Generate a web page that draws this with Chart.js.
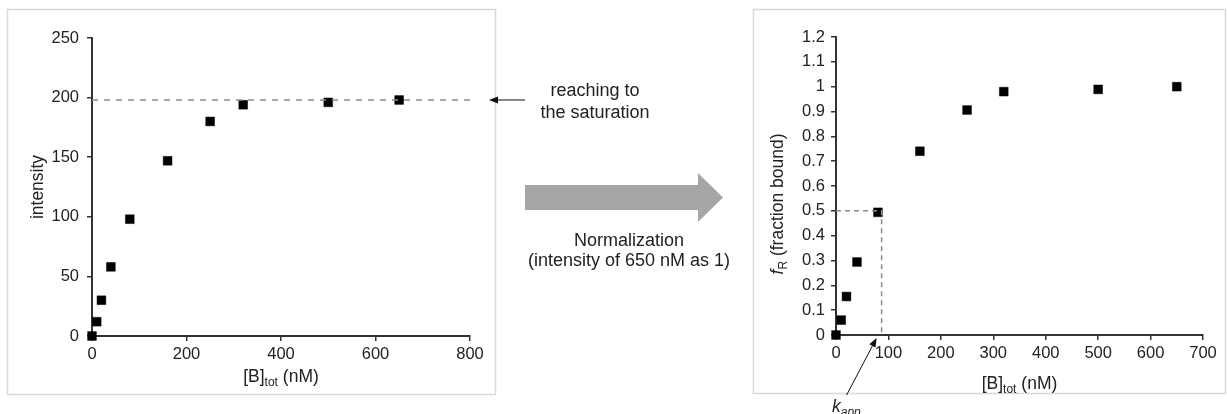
<!DOCTYPE html>
<html lang="en">
<head>
<meta charset="utf-8">
<title>Binding saturation and normalization</title>
<script src="https://cdn.jsdelivr.net/npm/chart.js"></script>
<style>
  body{margin:0;background:#fff;font-family:"Liberation Sans",Arial,sans-serif;color:#222}
  #wrap{position:relative;width:1227px;height:414px;overflow:hidden}
  #left{position:absolute;left:0;top:0}
  #right{position:absolute;left:740px;top:0}
  #bigArrow{position:absolute;left:0;top:0}
  .note{position:absolute;font-size:18px;text-align:center;white-space:nowrap;transform:translate(-50%,-50%)}
</style>
</head>
<body>
<div id="wrap">
  <canvas id="left" width="530" height="414"></canvas>
  <canvas id="right" width="487" height="414"></canvas>
  <svg id="bigArrow" width="1227" height="414">
    <polygon points="525,185 698,185 698,173 723,197.5 698,222 698,210 525,210" fill="#a6a6a6"/>
  </svg>
  <div class="note" style="left:595px;top:101px;line-height:22px">reaching to<br>the saturation</div>
  <div class="note" style="left:629px;top:250px;line-height:20px">Normalization<br>(intensity of 650 nM as 1)</div>
</div>

<script>
// concentration of B (nM)
const conc      = [0, 10, 20, 40, 80, 160, 250, 320, 500, 650];
// raw intensity (left panel)
const intensity = [0, 12, 30, 58, 98, 147, 180, 194, 196, 198];
// fraction bound, intensity / intensity(650 nM) (right panel)
const fraction  = [0, 0.06, 0.155, 0.294, 0.494, 0.74, 0.906, 0.98, 0.989, 1];
const saturation = 198;   // plateau intensity
const kapp = 87;          // concentration at half saturation (nM)

const FONT = '"Liberation Sans", Arial, sans-serif';
const INK = '#222';
const AXIS = '#333';
const DASH = '#8c8c8c';

function pts(xs, ys){ return xs.map((x,i)=>({x, y:ys[i]})); }

function drawRich(ctx, parts, cx, cy, angle){
  ctx.save();
  ctx.translate(cx, cy);
  if(angle) ctx.rotate(angle);
  ctx.fillStyle = INK;
  ctx.textBaseline = 'alphabetic';
  let w = 0;
  parts.forEach(p=>{ ctx.font = p.font; p.w = ctx.measureText(p.t).width; w += p.w; });
  let x = -w/2;
  parts.forEach(p=>{ ctx.font = p.font; ctx.fillText(p.t, x, 6 + (p.dy||0)); x += p.w; });
  ctx.restore();
}

function arrow(ctx, x1, y1, x2, y2){
  const a = Math.atan2(y2-y1, x2-x1), L = 9, H = 3.5;
  ctx.save();
  ctx.strokeStyle = ctx.fillStyle = '#111';
  ctx.lineWidth = 1;
  ctx.beginPath(); ctx.moveTo(x1,y1); ctx.lineTo(x2-L*Math.cos(a), y2-L*Math.sin(a)); ctx.stroke();
  ctx.translate(x2,y2); ctx.rotate(a);
  ctx.beginPath(); ctx.moveTo(0,0); ctx.lineTo(-L,-H); ctx.lineTo(-L,H); ctx.closePath(); ctx.fill();
  ctx.restore();
}

const main = `17.5px ${FONT}`, sub = `12px ${FONT}`;
const ital = `italic 17.5px ${FONT}`, italSub = `italic 12px ${FONT}`;

function axis(min, max, step, pad, fit, fmt){
  return {
    type:'linear', min, max,
    ticks:{ stepSize:step, color:INK, font:{family:FONT, size:16.5}, padding:pad,
            callback: fmt || (v=>v) },
    grid:{ drawOnChartArea:false, drawTicks:true, tickLength:5, tickColor:AXIS, lineWidth:1.5 },
    border:{ color:AXIS, width:2 },
    afterFit: fit
  };
}

const markers = { pointStyle:'rect', pointRadius:6.2, pointHoverRadius:6.2, clip:false,
                  backgroundColor:'#000', borderColor:'#000', borderWidth:0.5 };

// left panel: raw intensity
new Chart(document.getElementById('left'), {
  type:'scatter',
  data:{ datasets:[
    { type:'line', data:[{x:0,y:saturation},{x:806,y:saturation}], borderColor:DASH,
      borderWidth:1.5, borderDash:[6,6], pointRadius:0, clip:false },
    { data: pts(conc, intensity), ...markers }
  ]},
  options:{
    responsive:false, animation:false,
    layout:{ padding:{left:10, right:60, top:38, bottom:28} },
    plugins:{ legend:{display:false}, tooltip:{enabled:false} },
    scales:{
      x: axis(0, 800, 200, 4, s=>{ s.height = 50; }),
      y: axis(0, 250, 50, 8, s=>{ s.width = 82; })
    }
  },
  plugins:[{
    id:'leftDecor',
    beforeDraw(chart){
      const c = chart.ctx;
      c.save(); c.strokeStyle = '#d9d9d9'; c.lineWidth = 1.5;
      c.strokeRect(7.5, 9.5, 488, 385); c.restore();
    },
    afterDraw(chart){
      const c = chart.ctx, a = chart.chartArea;
      drawRich(c, [{t:'intensity', font:main}], 37, (a.top+a.bottom)/2, -Math.PI/2);
      drawRich(c, [{t:'[B]', font:main},{t:'tot', font:sub, dy:4},{t:' (nM)', font:main}],
               (a.left+a.right)/2, 376);
      const y = chart.scales.y.getPixelForValue(saturation);
      arrow(c, 525, y, 489, y);
    }
  }]
});

// right panel: fraction bound
new Chart(document.getElementById('right'), {
  type:'scatter',
  data:{ datasets:[
    { type:'line', data:[{x:0,y:0.5},{x:kapp,y:0.5},{x:kapp,y:0}], borderColor:DASH,
      borderWidth:1.5, borderDash:[5,4], pointRadius:0 },
    { data: pts(conc, fraction), ...markers }
  ]},
  options:{
    responsive:false, animation:false,
    layout:{ padding:{left:10, right:24, top:37, bottom:29} },
    plugins:{ legend:{display:false}, tooltip:{enabled:false} },
    scales:{
      x: axis(0, 700, 100, 4, s=>{ s.height = 50; }),
      y: axis(0, 1.2, 0.1, 6, s=>{ s.width = 86; }, v=>String(+v.toFixed(1)))
    }
  },
  plugins:[{
    id:'rightDecor',
    beforeDraw(chart){
      const c = chart.ctx;
      c.save(); c.strokeStyle = '#d9d9d9'; c.lineWidth = 1.5;
      c.strokeRect(13.5, 9.5, 472, 384); c.restore();
    },
    afterDraw(chart){
      const c = chart.ctx;
      drawRich(c, [{t:'f', font:ital},{t:'R', font:sub, dy:4},{t:' (fraction bound)', font:main}],
               37, 204, -Math.PI/2);
      const a = chart.chartArea;
      drawRich(c, [{t:'[B]', font:main},{t:'tot', font:sub, dy:4},{t:' (nM)', font:main}],
               (a.left+a.right)/2, 383);
      const tx = chart.scales.x.getPixelForValue(kapp) - 5;
      const ty = chart.scales.y.getPixelForValue(0) + 3;
      arrow(c, tx-30, ty+57, tx, ty);
      c.save(); c.fillStyle = INK; c.textBaseline = 'alphabetic';
      c.font = ital; c.fillText('k', 92, 412);
      const kw = c.measureText('k').width;
      c.font = italSub; c.fillText('app', 92+kw, 416);
      c.restore();
    }
  }]
});
</script>
</body>
</html>
